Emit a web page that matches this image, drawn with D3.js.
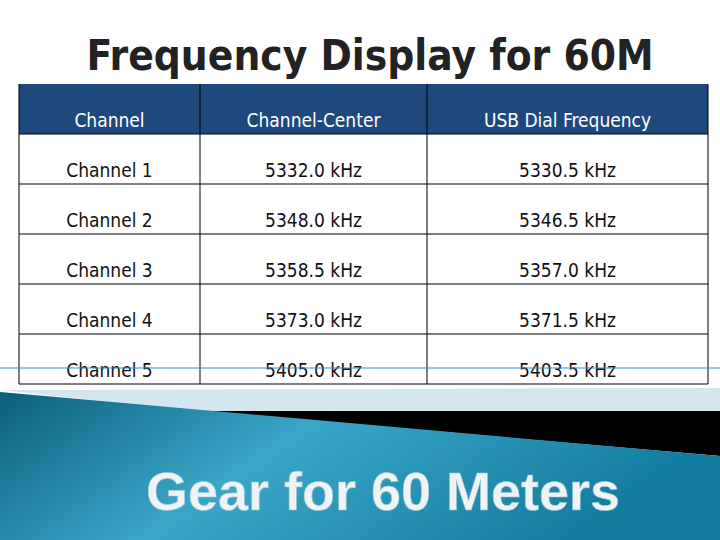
<!DOCTYPE html>
<html><head><meta charset="utf-8">
<script src="https://cdn.jsdelivr.net/npm/d3@7"></script>
<style>body{margin:0;background:#fff}</style>
</head><body>
<svg id="c" width="720" height="540"></svg>
<script>
const headers = ['Channel', 'Channel-Center', 'USB Dial Frequency'];
const channels = ['Channel 1', 'Channel 2', 'Channel 3', 'Channel 4', 'Channel 5'];
const centers = ['5332.0 kHz', '5348.0 kHz', '5358.5 kHz', '5373.0 kHz', '5405.0 kHz'];
const usbDial = ['5330.5 kHz', '5346.5 kHz', '5357.0 kHz', '5371.5 kHz', '5403.5 kHz'];

const svg = d3.select('#c');
const font = '"Liberation Sans Narrow", "DejaVu Sans Condensed", "Open Sans", sans-serif';

// slide decoration at the bottom
const defs = svg.append('defs');
const g = defs.append('linearGradient').attr('id', 'teal').attr('x1', 0).attr('x2', 1).attr('y1', 0).attr('y2', 0.3);
g.append('stop').attr('offset', 0).attr('stop-color', '#0b5f7c');
g.append('stop').attr('offset', 0.45).attr('stop-color', '#3aa6c8');
g.append('stop').attr('offset', 1).attr('stop-color', '#137da0');
svg.append('path').attr('d', 'M0,390 L720,388 L720,412 L200,412 Z').attr('fill', '#d4e6ee');
svg.append('path').attr('d', 'M200,411 L720,411 L720,456 Z').attr('fill', '#000');
svg.append('path').attr('d', 'M0,392 L720,456 L720,540 L0,540 Z').attr('fill', 'url(#teal)');
svg.append('text').attr('x', 383).attr('y', 510).attr('text-anchor', 'middle')
  .attr('font-family', '"Liberation Sans", Arial, sans-serif').attr('font-weight', 'bold')
  .attr('font-size', 54).attr('fill', '#eef3f5').attr('stroke', '#9cc3d1').attr('stroke-width', 0.6)
  .text('Gear for 60 Meters');

// title
svg.append('text').attr('x', 370).attr('y', 70).attr('text-anchor', 'middle')
  .attr('font-family', font).attr('font-weight', 'bold').attr('font-size', 42).attr('fill', '#222')
  .text('Frequency Display for 60M');

// table
const colEdges = [19, 200, 427, 708];
const rowNames = ['header', ...channels];
const y = d3.scaleBand().domain(rowNames).range([84, 384]);
const rows = [headers, ...channels.map((c, i) => [c, centers[i], usbDial[i]])];

const t = svg.append('g');
t.append('rect').attr('x', 19).attr('y', y('header')).attr('width', 689).attr('height', y.bandwidth()).attr('fill', '#1f497d');
rows.forEach((r, ri) => {
  r.forEach((txt, ci) => {
    const x0 = colEdges[ci], x1 = colEdges[ci + 1];
    t.append('text').attr('x', (x0 + x1) / 2).attr('y', y(rowNames[ri]) + y.bandwidth() - 7)
      .attr('text-anchor', 'middle').attr('font-family', font).attr('font-size', 19)
      .attr('fill', ri === 0 ? '#fff' : '#111').text(txt);
  });
});
rowNames.slice(1).forEach(n => t.append('line').attr('x1', 19).attr('x2', 708)
  .attr('y1', y(n)).attr('y2', y(n)).attr('stroke', '#000'));
colEdges.forEach(x => t.append('line').attr('x1', x).attr('x2', x)
  .attr('y1', 84).attr('y2', 384).attr('stroke', '#000'));
t.append('line').attr('x1', 19).attr('x2', 708).attr('y1', 384).attr('y2', 384).attr('stroke', '#000');
svg.append('line').attr('x1', 0).attr('x2', 720).attr('y1', 368).attr('y2', 368).attr('stroke', '#3a8fc0').attr('stroke-width', 1);
</script>
</body></html>
